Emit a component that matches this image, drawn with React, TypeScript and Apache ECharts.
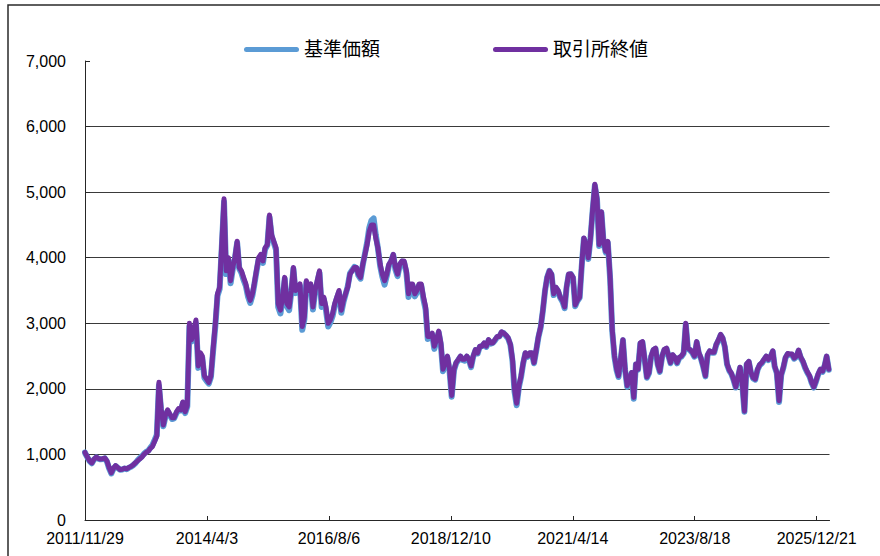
import React, { useEffect, useRef } from "react";
import * as echarts from "echarts";

// ---- data ----
const seriesNames = ["基準価額", "取引所終値"];
const seriesColors = ["#5B9BD5", "#7030A0"];
const xTickLabels = ["2011/11/29", "2014/4/3", "2016/8/6", "2018/12/10", "2021/4/14", "2023/8/18", "2025/12/21"];
const axisEndDate = "2026/3/21";
const yMax = 7000;
const yStep = 1000;

// sample dates: 2011/11/29, then the 1st and 16th of every month up to 2026/3
const sampleDates: string[] = ["2011/11/29"];
for (let y = 2011, m = 12; y < 2026 || (y === 2026 && m <= 3); ) {
  sampleDates.push(`${y}/${m}/1`, `${y}/${m}/16`);
  m++;
  if (m > 12) { m = 1; y++; }
}

// 取引所終値 (exchange close)
const close2011 = [1030, 1020, 960];
const close2012 = [900, 870, 930, 960, 940, 930, 935, 945, 900, 800, 720, 790, 830, 800, 770, 775, 790, 780, 800, 815, 840, 870, 900, 930];
const close2013 = [960, 1000, 1030, 1050, 1090, 1120, 1200, 1280, 2100, 1700, 1450, 1600, 1680, 1620, 1560, 1560, 1650, 1700, 1680, 1800, 1650, 1750, 3000, 2750];
const close2014 = [2900, 3050, 2350, 2550, 2500, 2200, 2150, 2100, 2200, 2600, 3000, 3450, 3550, 4200, 4900, 3800, 4000, 3650, 3850, 4000, 4250, 3850, 3800, 3700];
const close2015 = [3600, 3450, 3350, 3450, 3600, 3800, 4000, 4050, 3950, 4150, 4200, 4650, 4350, 4250, 4150, 3300, 3200, 3400, 3700, 3300, 3250, 3500, 3850, 3500];
const close2016 = [3550, 3600, 2950, 3100, 3650, 3500, 3600, 3250, 3500, 3650, 3800, 3300, 3400, 3250, 3000, 3050, 3150, 3300, 3400, 3500, 3200, 3350, 3450, 3550];
const close2017 = [3750, 3800, 3850, 3850, 3750, 3700, 3900, 4050, 4200, 4400, 4500, 4500, 4300, 4150, 3900, 3750, 3650, 3750, 3900, 3950, 4050, 3850, 3750, 3900];
const close2018 = [3950, 3950, 3800, 3450, 3600, 3600, 3450, 3500, 3600, 3600, 3400, 3250, 2800, 2800, 2850, 2650, 2750, 2880, 2700, 2300, 2400, 2500, 2300, 1900];
const close2019 = [2300, 2400, 2450, 2500, 2450, 2450, 2500, 2450, 2350, 2500, 2600, 2550, 2650, 2650, 2700, 2650, 2750, 2700, 2700, 2750, 2800, 2800, 2870, 2850];
const close2020 = [2820, 2780, 2680, 2450, 2000, 1780, 2050, 2200, 2400, 2550, 2500, 2550, 2550, 2400, 2600, 2800, 2950, 3200, 3500, 3700, 3800, 3750, 3450, 3550];
const close2021 = [3500, 3400, 3350, 3250, 3550, 3750, 3750, 3700, 3280, 3350, 3400, 3900, 4300, 4200, 4000, 4300, 4750, 5120, 4900, 4200, 4700, 4250, 4100, 4250];
const close2022 = [3700, 2900, 2500, 2300, 2200, 2450, 2750, 2300, 2050, 2150, 2250, 1870, 2380, 2300, 2700, 2720, 2450, 2180, 2250, 2500, 2600, 2620, 2380, 2270];
const close2023 = [2500, 2600, 2620, 2500, 2400, 2520, 2480, 2400, 2480, 2500, 2550, 3000, 2620, 2600, 2560, 2500, 2720, 2550, 2470, 2350, 2200, 2520, 2580, 2560];
const close2024 = [2560, 2680, 2750, 2830, 2780, 2650, 2380, 2290, 2240, 2150, 2030, 2180, 2330, 2100, 1660, 2380, 2420, 2250, 2170, 2150, 2300, 2370, 2400, 2450];
const close2025 = [2500, 2450, 2500, 2580, 2350, 2250, 1820, 2220, 2330, 2480, 2540, 2530, 2530, 2470, 2500, 2590, 2480, 2420, 2330, 2260, 2200, 2100, 2030, 2120];
const close2026 = [2230, 2300, 2270, 2370, 2500, 2300];

// 基準価額 (NAV)
const nav2011 = [1030, 1015, 955];
const nav2012 = [895, 865, 925, 955, 935, 925, 930, 940, 890, 790, 710, 780, 820, 795, 765, 770, 785, 775, 795, 810, 835, 865, 905, 940];
const nav2013 = [970, 1010, 1040, 1060, 1100, 1140, 1220, 1300, 2050, 1680, 1430, 1580, 1660, 1600, 1540, 1550, 1630, 1680, 1670, 1780, 1630, 1730, 2950, 2720];
const nav2014 = [2880, 3000, 2320, 2520, 2480, 2170, 2120, 2080, 2180, 2570, 2960, 3420, 3520, 4150, 4850, 3750, 3970, 3610, 3820, 3980, 4230, 3830, 3770, 3660];
const nav2015 = [3570, 3410, 3310, 3420, 3580, 3780, 3980, 4020, 3920, 4130, 4190, 4620, 4330, 4230, 4120, 3250, 3150, 3370, 3680, 3260, 3200, 3470, 3830, 3460];
const nav2016 = [3520, 3570, 2900, 3060, 3620, 3460, 3570, 3210, 3470, 3620, 3770, 3250, 3370, 3210, 2950, 3010, 3110, 3270, 3380, 3470, 3160, 3320, 3440, 3560];
const nav2017 = [3760, 3810, 3860, 3840, 3730, 3680, 3890, 4060, 4230, 4450, 4570, 4600, 4350, 4150, 3870, 3710, 3590, 3720, 3880, 3940, 4040, 3820, 3720, 3880];
const nav2018 = [3940, 3930, 3770, 3400, 3570, 3580, 3410, 3470, 3580, 3580, 3360, 3210, 2760, 2780, 2830, 2610, 2730, 2860, 2670, 2270, 2380, 2480, 2270, 1880];
const nav2019 = [2280, 2390, 2440, 2490, 2440, 2430, 2490, 2440, 2330, 2490, 2590, 2540, 2640, 2650, 2690, 2640, 2740, 2690, 2700, 2740, 2790, 2800, 2860, 2850];
const nav2020 = [2810, 2770, 2670, 2420, 1960, 1750, 2030, 2180, 2390, 2540, 2490, 2540, 2540, 2390, 2590, 2790, 2940, 3190, 3490, 3700, 3800, 3740, 3430, 3540];
const nav2021 = [3490, 3390, 3330, 3230, 3540, 3740, 3750, 3690, 3260, 3340, 3390, 3880, 4290, 4190, 3980, 4290, 4730, 5100, 4890, 4180, 4690, 4230, 4080, 4230];
const nav2022 = [3680, 2880, 2480, 2280, 2180, 2440, 2740, 2290, 2030, 2140, 2240, 1850, 2370, 2290, 2690, 2710, 2440, 2170, 2240, 2490, 2590, 2610, 2370, 2260];
const nav2023 = [2490, 2590, 2610, 2490, 2390, 2510, 2470, 2390, 2470, 2490, 2540, 2980, 2610, 2590, 2550, 2490, 2710, 2540, 2460, 2340, 2190, 2510, 2570, 2550];
const nav2024 = [2550, 2670, 2740, 2820, 2770, 2640, 2370, 2280, 2230, 2140, 2020, 2170, 2320, 2090, 1650, 2370, 2410, 2240, 2160, 2140, 2290, 2360, 2390, 2440];
const nav2025 = [2490, 2440, 2490, 2570, 2340, 2240, 1800, 2210, 2320, 2470, 2530, 2520, 2520, 2460, 2490, 2580, 2470, 2410, 2320, 2250, 2190, 2090, 2020, 2110];
const nav2026 = [2220, 2290, 2260, 2360, 2490, 2290];

const closeValues = [
  ...close2011, ...close2012, ...close2013, ...close2014, ...close2015, ...close2016, ...close2017, ...close2018,
  ...close2019, ...close2020, ...close2021, ...close2022, ...close2023, ...close2024, ...close2025, ...close2026,
];
const navValues = [
  ...nav2011, ...nav2012, ...nav2013, ...nav2014, ...nav2015, ...nav2016, ...nav2017, ...nav2018,
  ...nav2019, ...nav2020, ...nav2021, ...nav2022, ...nav2023, ...nav2024, ...nav2025, ...nav2026,
];

// ---- helpers ----
const DAY = 86400000;
const parseDate = (s: string) => {
  const [y, m, d] = s.split("/").map(Number);
  return Date.UTC(y, m - 1, d);
};
const origin = parseDate(xTickLabels[0]);
const toDays = (s: string) => Math.round((parseDate(s) - origin) / DAY);
const fmtDate = (v: number) => {
  const dt = new Date(origin + Math.round(v) * DAY);
  return `${dt.getUTCFullYear()}/${dt.getUTCMonth() + 1}/${dt.getUTCDate()}`;
};

const FONT = "'Liberation Sans', Arial, 'Noto Sans CJK JP', sans-serif";

export default function App() {
  const ref = useRef<HTMLDivElement>(null);

  useEffect(() => {
    document.body.style.margin = "0";
    if (!ref.current) return;
    const chart = echarts.init(ref.current, undefined, { renderer: "svg" });
    const tickDays = xTickLabels.map(toDays);
    const n = Math.min(sampleDates.length, closeValues.length, navValues.length);
    const navData: number[][] = [];
    const closeData: number[][] = [];
    for (let i = 0; i < n; i++) {
      const d = toDays(sampleDates[i]);
      navData.push([d, navValues[i]]);
      closeData.push([d, closeValues[i]]);
    }
    const legendIcon = "path://M2.5,0 L52.5,0 A2.5,2.5 0 0 1 52.5,5 L2.5,5 A2.5,2.5 0 0 1 2.5,0 Z";

    chart.setOption({
      animation: false,
      backgroundColor: "#ffffff",
      grid: { left: 85, right: 50.5, top: 61, bottom: 36, containLabel: false },
      legend: {
        data: seriesNames,
        top: 40,
        left: 244,
        padding: 0,
        itemWidth: 55,
        itemHeight: 5,
        itemGap: 113,
        icon: legendIcon,
        itemStyle: { borderWidth: 0 },
        textStyle: { fontSize: 19, color: "#000", fontFamily: FONT },
      },
      xAxis: {
        type: "value",
        min: 0,
        max: toDays(axisEndDate),
        axisLine: { show: true, lineStyle: { color: "#262626", width: 1 } },
        axisTick: { show: true, inside: true, length: 4, customValues: tickDays, lineStyle: { color: "#262626" } },
        axisLabel: {
          customValues: tickDays,
          formatter: (v: number) => fmtDate(v),
          margin: 10,
          fontSize: 16,
          color: "#000",
          fontFamily: FONT,
        },
        splitLine: { show: false },
      },
      yAxis: {
        type: "value",
        min: 0,
        max: yMax,
        interval: yStep,
        axisLine: { show: true, lineStyle: { color: "#262626", width: 1 } },
        axisTick: { show: true, inside: true, length: 5, lineStyle: { color: "#262626" } },
        axisLabel: {
          margin: 19,
          fontSize: 16,
          color: "#000",
          fontFamily: FONT,
          formatter: (v: number) => v.toLocaleString("en-US"),
        },
        splitLine: { show: true, showMaxLine: false, lineStyle: { color: "#3a3a3a", width: 1 } },
      },
      series: [
        {
          name: seriesNames[0],
          type: "line",
          data: navData,
          symbol: "none",
          showSymbol: false,
          z: 3,
          color: seriesColors[0],
          lineStyle: { width: 6, color: seriesColors[0], join: "round", cap: "round" },
          itemStyle: { color: seriesColors[0] },
        },
        {
          name: seriesNames[1],
          type: "line",
          data: closeData,
          symbol: "none",
          showSymbol: false,
          z: 4,
          color: seriesColors[1],
          lineStyle: { width: 5, color: seriesColors[1], join: "round", cap: "round" },
          itemStyle: { color: seriesColors[1] },
        },
      ],
      graphic: [
        {
          type: "polyline",
          silent: true,
          shape: { points: [[8, 560], [8, 5], [884, 5]] },
          style: { fill: "none", stroke: "#2a2a2a", lineWidth: 1.5 },
        },
      ],
    });
    return () => chart.dispose();
  }, []);

  return <div ref={ref} style={{ width: 880, height: 556 }} />;
}
